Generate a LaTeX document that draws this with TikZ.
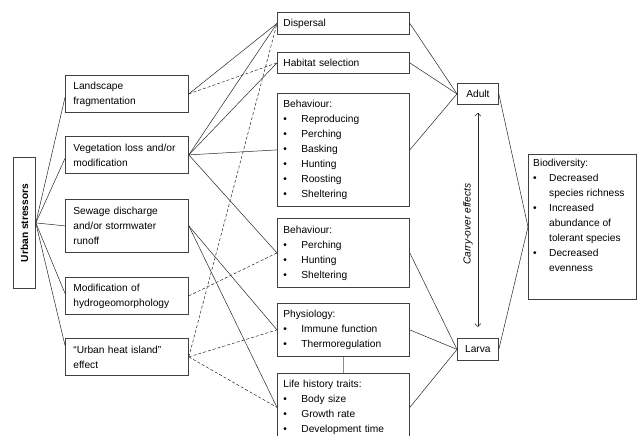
\documentclass[tikz,border=0pt]{standalone}
\usepackage{fontspec}
\setmainfont{Liberation Sans}
\usepackage{graphicx}
\usetikzlibrary{arrows.meta}
\newcommand{\bl}[1]{\makebox[18pt][l]{•}#1}
\newcommand{\blb}[1]{\makebox[16pt][l]{•}#1}
\newcommand{\ind}{\hspace*{16pt}}
\tikzset{
  box/.style={draw=black!75, line width=0.8pt, anchor=north west, align=left,
    inner xsep=6pt, inner ysep=2pt, font=\fontsize{10.2}{15}\selectfont},
  sbox/.style={box, inner xsep=8pt, text width=107pt, minimum height=#1},
  mbox/.style={box, text width=120pt, minimum height=#1},
  conn/.style={draw=black!85, line width=0.5pt},
  dconn/.style={conn, dash pattern=on 3pt off 2pt},
}
\begin{document}
\begin{tikzpicture}[x=1pt, y=-1pt]
\useasboundingbox (0,0) rectangle (642,436);
\clip (0,0) rectangle (642,436);
% urban stressors
\node[draw=black!75, line width=0.8pt, anchor=north west, minimum width=22pt, minimum height=131pt, inner sep=0pt] (us) at (13,157)
  {\rotatebox{90}{\fontsize{10.2}{12}\selectfont\bfseries Urban stressors}};
% stressors
\node[sbox=37pt] (land) at (65,75) {Landscape\\fragmentation};
\node[sbox=37pt] (veg) at (65,136) {Vegetation loss and/or\\modification};
\node[sbox=53pt] (sew) at (65,199) {Sewage discharge\\and/or stormwater\\runoff};
\node[sbox=37pt] (mod) at (65,277) {Modification of\\hydrogeomorphology};
\node[sbox=37pt] (heat) at (65,338) {“Urban heat island”\\effect};
% middle
\node[mbox=22pt] (disp) at (277,12) {Dispersal};
\node[mbox=21pt] (hab) at (277,52) {Habitat selection};
\node[mbox=113pt] (beh1) at (277,93) {Behaviour:\\\bl{Reproducing}\\\bl{Perching}\\\bl{Basking}\\\bl{Hunting}\\\bl{Roosting}\\\bl{Sheltering}};
\node[mbox=69pt] (beh2) at (277,218) {Behaviour:\\\bl{Perching}\\\bl{Hunting}\\\bl{Sheltering}};
\node[mbox=53pt] (phys) at (277,303) {Physiology:\\\bl{Immune function}\\\bl{Thermoregulation}};
\node[mbox=68pt] (life) at (277,373) {Life history traits:\\\bl{Body size}\\\bl{Growth rate}\\\bl{Development time}};
% right
\node[box, inner sep=0pt, minimum width=41pt, minimum height=21pt, align=center] (adult) at (457,83) {Adult};
\node[box, inner sep=0pt, minimum width=41pt, minimum height=22pt, align=center] (larva) at (457,338) {Larva};
\node[box, minimum width=108pt, minimum height=145pt] (bio) at (528,154) {};
\node[anchor=north west, align=left, inner xsep=5pt, inner ysep=5pt, font=\fontsize{10.2}{15}\selectfont] (biotext) at (bio.north west)
  {Biodiversity:\\\blb{Decreased}\\\ind species richness\\\blb{Increased}\\\ind abundance of\\\ind tolerant species\\\blb{Decreased}\\\ind evenness};
% urban stressors to stressors
\draw[conn] (us.east) -- ([yshift=-3.5pt]land.west);
\draw[conn] (us.east) -- ([yshift=-3.5pt]veg.west);
\draw[conn] (us.east) -- (sew.west);
\draw[conn] (us.east) -- ([yshift=2.5pt]mod.west);
\draw[conn] (us.east) -- ([yshift=11.5pt]heat.west);
% stressors to middle
\draw[conn] (land.east) -- (disp.west);
\draw[dconn] (land.east) -- (hab.west);
\draw[conn] (veg.east) -- (disp.west);
\draw[conn] (veg.east) -- (hab.west);
\draw[conn] (veg.east) -- (beh1.west);
\draw[conn] (veg.east) -- (beh2.west);
\draw[conn] (sew.east) -- (phys.west);
\draw[conn] (sew.east) -- (life.west);
\draw[dconn] (mod.east) -- (beh2.west);
\draw[dconn] (heat.east) -- (disp.west);
\draw[dconn] (heat.east) -- (phys.west);
\draw[dconn] (heat.east) -- (life.west);
% middle to life stages
\draw[conn] (disp.east) -- (adult.west);
\draw[conn] (hab.east) -- (adult.west);
\draw[conn] (beh1.east) -- (adult.west);
\draw[conn] (beh2.east) -- (larva.west);
\draw[conn] (phys.east) -- (larva.west);
\draw[conn] (life.east) -- (larva.west);
\draw[draw=black!45, line width=1.5pt] (phys.south) -- (life.north);
% life stages to biodiversity
\draw[conn] (adult.east) -- (bio.west);
\draw[conn] (larva.east) -- (bio.west);
% carry-over
\coordinate (cotop) at ([yshift=-8pt]adult.south);
\coordinate (cobot) at ([yshift=11pt]larva.north);
\draw[conn, {Straight Barb[length=3pt,width=6pt]}-{Straight Barb[length=3pt,width=6pt]}] (cotop) -- (cobot);
\node[rotate=90, font=\fontsize{10.2}{12}\selectfont\itshape, inner sep=0pt] (colabel) at (468,224) {Carry-over effects};
\end{tikzpicture}
\end{document}
